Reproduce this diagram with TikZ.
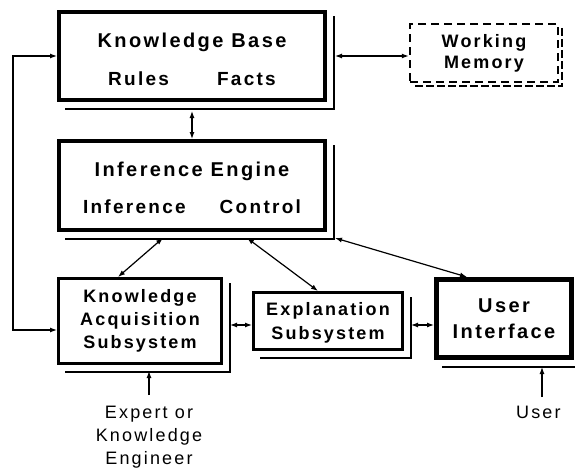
\documentclass[tikz,border=0pt]{standalone}
\usepackage{fontspec}
\setmainfont{Liberation Sans}[LetterSpace=12]
\usetikzlibrary{arrows.meta}

\begin{document}
\begin{tikzpicture}[x=1pt, y=-1pt,
	  bigbox/.style={draw, line width=4pt, fill=white, inner sep=0pt, align=center},
	  subbox/.style={draw, line width=3pt, fill=white, inner sep=0pt, align=center},
	  shade/.style={line width=1.5pt},
	  link/.style={line width=1.2pt, {Latex[length=7pt,width=5pt]}-{Latex[length=7pt,width=5pt]}},
	  feed/.style={line width=1.2pt, -{Latex[length=7pt,width=5pt]}},
	  note/.style={inner sep=0pt, align=center, font=\fontsize{18}{23}\selectfont}]
	  \useasboundingbox (0,0) rectangle (575,471);

	  % the boxes
	  \node [ bigbox, minimum width=266pt, minimum height=88pt,
	          font=\bfseries\fontsize{20}{38}\selectfont ] (kb) at (192,56)
	        { \rule{0pt}{21pt}Knowledge Base \\ {\fontsize{19}{38}\selectfont Rules\hspace{48pt}Facts} };
	  \node [ bigbox, minimum width=266pt, minimum height=89pt,
	          font=\bfseries\fontsize{20}{37}\selectfont ] (ie) at (192,185.5)
	        { \rule{0pt}{20pt}Inference Engine \\ {\fontsize{19}{37}\selectfont Inference\hspace{34pt}Control} };
	  \node [ draw, line width=2.5pt, dash pattern=on 8pt off 5pt, inner sep=0pt, align=center,
	          minimum width=148pt, minimum height=58pt,
	          font=\bfseries\fontsize{18}{21}\selectfont ] (wm) at (484,53)
	        { Working \\ Memory };
	  \node [ subbox, minimum width=163pt, minimum height=85pt,
	          font=\bfseries\fontsize{18}{23}\selectfont ] (kas) at (140,321)
	        { Knowledge \\ Acquisition \\ Subsystem };
	  \node [ subbox, minimum width=149pt, minimum height=57pt,
	          font=\bfseries\fontsize{18}{24}\selectfont ] (expl) at (328,321)
	        { \rule{0pt}{16pt}Explanation \\ Subsystem };
	  \node [ bigbox, line width=5pt, minimum width=135pt, minimum height=78pt,
	          font=\bfseries\fontsize{20}{26}\selectfont ] (ui) at (504,318.5)
	        { User \\ Interface };

	  % stacked edges
	  \foreach \n in {kb,ie,kas,expl,ui}
	    \draw [shade] ([shift={(7pt,-6pt)}]\n.north east) |- ([shift={(8pt,-7pt)}]\n.south west);
	  \draw [line width=2pt, dash pattern=on 8pt off 3pt] ([shift={(3pt,-5pt)}]wm.north east) |- ([shift={(5pt,-3pt)}]wm.south west);

	  \node [ note ] (expert) at (149,406) [anchor=north] { Expert or \\ Knowledge \\ Engineer };
	  \node [ note ] (user) at (542,406) [anchor=north] { User };
	  \coordinate (loop) at (13,200);

	  % connectors
	  \draw [link] ([xshift=8pt]kb.east) -- (kb.east -| wm.west);
	  \draw [link] ([yshift=-9pt]kb.south) -- (ie.north);
	  \draw [link] ([shift={(-29pt,-6pt)}]ie.south) -- ([xshift=-22pt]kas.north);
	  \draw [link] ([shift={(55pt,-6pt)}]ie.south) -- ([xshift=-10pt]expl.north);
	  \draw [link] ([shift={(8pt,-6pt)}]ie.south east) -- ([xshift=-37pt]ui.north);
	  \draw [link] ([shift={(7pt,-4pt)}]kas.east) -- ([yshift=-4pt]expl.west);
	  \draw [link] ([shift={(7pt,-4pt)}]expl.east) -- ([yshift=-4pt]expl.east -| ui.west);
	  \draw [link] (kb.west) -| (loop) |- ([yshift=-9pt]kas.west);

	  \draw [feed] ([yshift=11pt]expert.north) -- ([yshift=-6pt]kas.south -| expert.north);
	  \draw [feed] ([yshift=9pt]user.north) -- ([yshift=-7pt]ui.south -| user.north);
	\end{tikzpicture}
\end{document}
